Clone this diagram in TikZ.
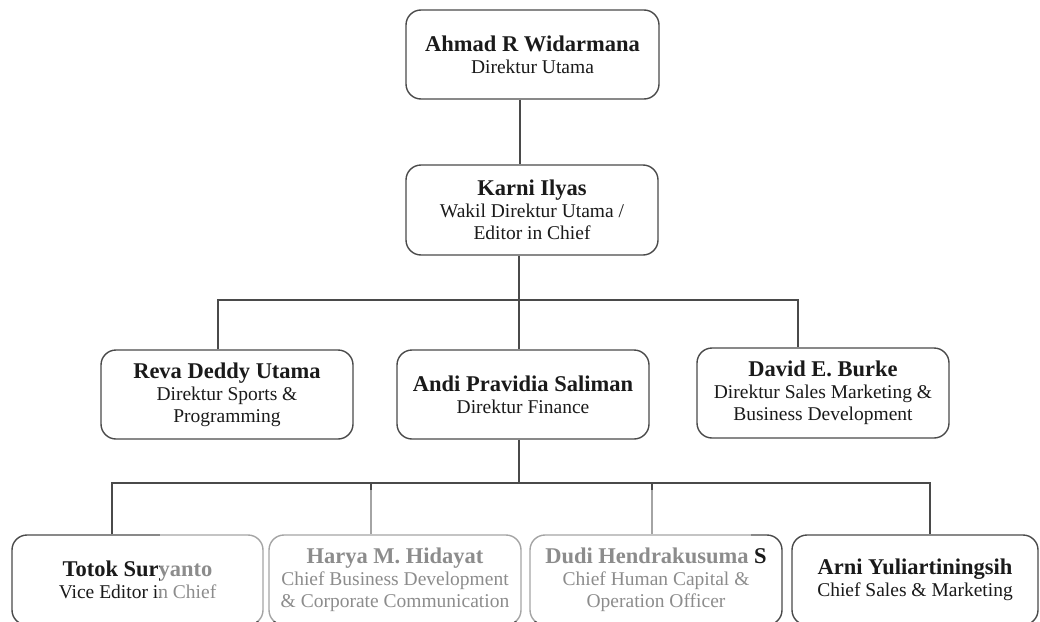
\documentclass[tikz,border=0pt]{standalone}
\usepackage{fontspec}
\setmainfont{Liberation Serif}
\definecolor{linec}{HTML}{4A4A4A}
\definecolor{txt}{HTML}{1A1A1A}
\newcommand\pname[1]{{\bfseries\fontsize{22.5}{22}\selectfont #1}}
\begin{document}
\begin{tikzpicture}[x=1pt,y=-1pt,
  box/.style={draw=linec, line width=1.4pt, rounded corners=15pt,
    minimum width=252pt, minimum height=89pt, align=center, inner sep=0pt,
    font=\fontsize{19.5}{22}\selectfont, text=txt},
  conn/.style={draw=linec, line width=1.3pt}]
\useasboundingbox (0,0) rectangle (1040,621);
\clip (0,0) rectangle (1040,621);
\fill[white] (0,0) rectangle (1040,621);
% level 1
\node[box, minimum width=253pt] (A) at (532.5,54.5) {\pname{Ahmad R Widarmana}\\Direktur Utama};
\node[box, minimum height=90pt] (K) at (532,210) {\pname{Karni Ilyas}\\Wakil Direktur Utama /\\Editor in Chief};
% level 3
\node[box] (R) at (227,394.5) {\pname{Reva Deddy Utama}\\Direktur Sports \&\\Programming};
\node[box] (P) at (523,394.5) {\pname{Andi Pravidia Saliman}\\Direktur Finance};
\node[box, minimum height=90pt] (D) at (823,393) {\pname{David E. Burke}\\Direktur Sales Marketing \&\\Business Development};
% level 4
\node[box, minimum width=251pt, minimum height=90pt] (T) at (137.5,580) {\pname{Totok Suryanto}\\Vice Editor in Chief};
\node[box, minimum height=90pt] (H) at (395,580) {\pname{Harya M. Hidayat}\\Chief Business Development\\\& Corporate Communication};
\node[box, minimum height=90pt] (U) at (656,580) {\pname{Dudi Hendrakusuma S}\\Chief Human Capital \&\\Operation Officer};
\node[box, minimum width=246pt, minimum height=90pt] (Y) at (915,580) {\pname{Arni Yuliartiningsih}\\Chief Sales \& Marketing};
% connectors
\coordinate (bus1) at (519,300);
\coordinate (bus2) at (519,483);
\draw[conn] ([xshift=-12.5pt]A.south) -- ([xshift=-12pt]K.north);
\draw[conn] ([xshift=-13pt]K.south) -- (bus1);
\draw[conn] ([xshift=-9pt]R.north) |- (bus1) -| ([xshift=-25pt]D.north);
\draw[conn] (bus1) -- ([xshift=-4pt]P.north);
\draw[conn] ([xshift=-4pt]P.south) -- (bus2);
\draw[conn] ([xshift=-25.5pt]T.north) |- (bus2) -| ([xshift=15pt]Y.north);
\draw[conn] (bus2 -| H.north) ++(-24,0) -- ([xshift=-24pt]H.north);
\draw[conn] ([xshift=-4pt]U.north |- bus2) -- ([xshift=-4pt]U.north);
% faded band
\fill[white, fill opacity=0.5] (160,490) rectangle (751,621);
\end{tikzpicture}
\end{document}
